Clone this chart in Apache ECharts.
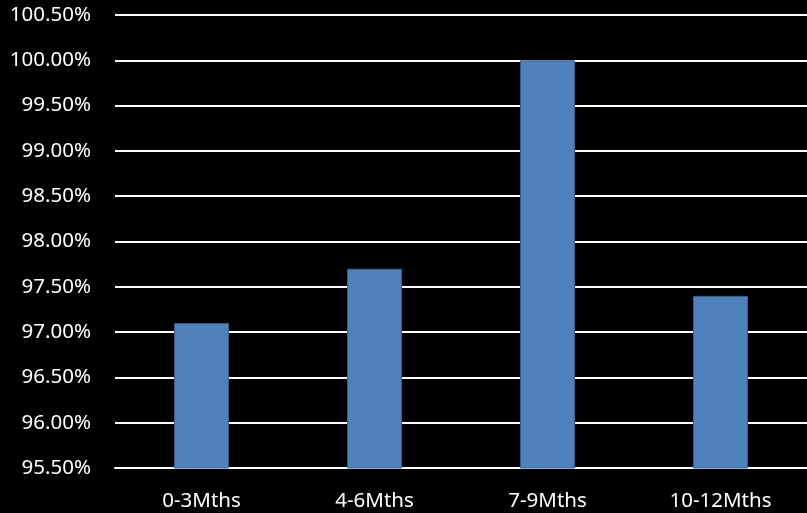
<!DOCTYPE html>
<html>
<head>
<meta charset="utf-8">
<script src="https://cdn.jsdelivr.net/npm/echarts@6/dist/echarts.min.js"></script>
<style>html,body{margin:0;padding:0;background:#000;}#c{width:807px;height:513px;}</style>
</head>
<body>
<div id="c"></div>
<script>
var categories = ['0-3Mths', '4-6Mths', '7-9Mths', '10-12Mths'];
var values = [97.10, 97.70, 100.00, 97.40];
var yMin = 95.5, yMax = 100.5, yStep = 0.5;

var chart = echarts.init(document.getElementById('c'), null, {renderer: 'canvas'});
chart.setOption({
  backgroundColor: '#000000',
  animation: false,
  grid: {left: 115, right: -4, top: 15, bottom: 45, containLabel: false},
  xAxis: {
    type: 'category',
    data: categories,
    axisLine: {show: true, lineStyle: {color: '#ffffff', width: 2}},
    axisTick: {show: false},
    axisLabel: {color: '#ffffff', fontFamily: 'Noto Sans', fontSize: 20.5, margin: 23}
  },
  yAxis: {
    type: 'value',
    min: yMin, max: yMax, interval: yStep,
    axisLine: {show: false},
    axisTick: {show: false},
    splitLine: {show: true, lineStyle: {color: '#ffffff', width: 2}},
    axisLabel: {
      color: '#ffffff', fontFamily: 'Noto Sans', fontSize: 20.5, margin: 24,
      formatter: function (v) { return v.toFixed(2) + '%'; }
    }
  },
  series: [{
    type: 'bar',
    data: values,
    barWidth: 55,
    itemStyle: {color: '#4F81BD', borderColor: '#385D8A', borderWidth: 1}
  }]
});
</script>
</body>
</html>
